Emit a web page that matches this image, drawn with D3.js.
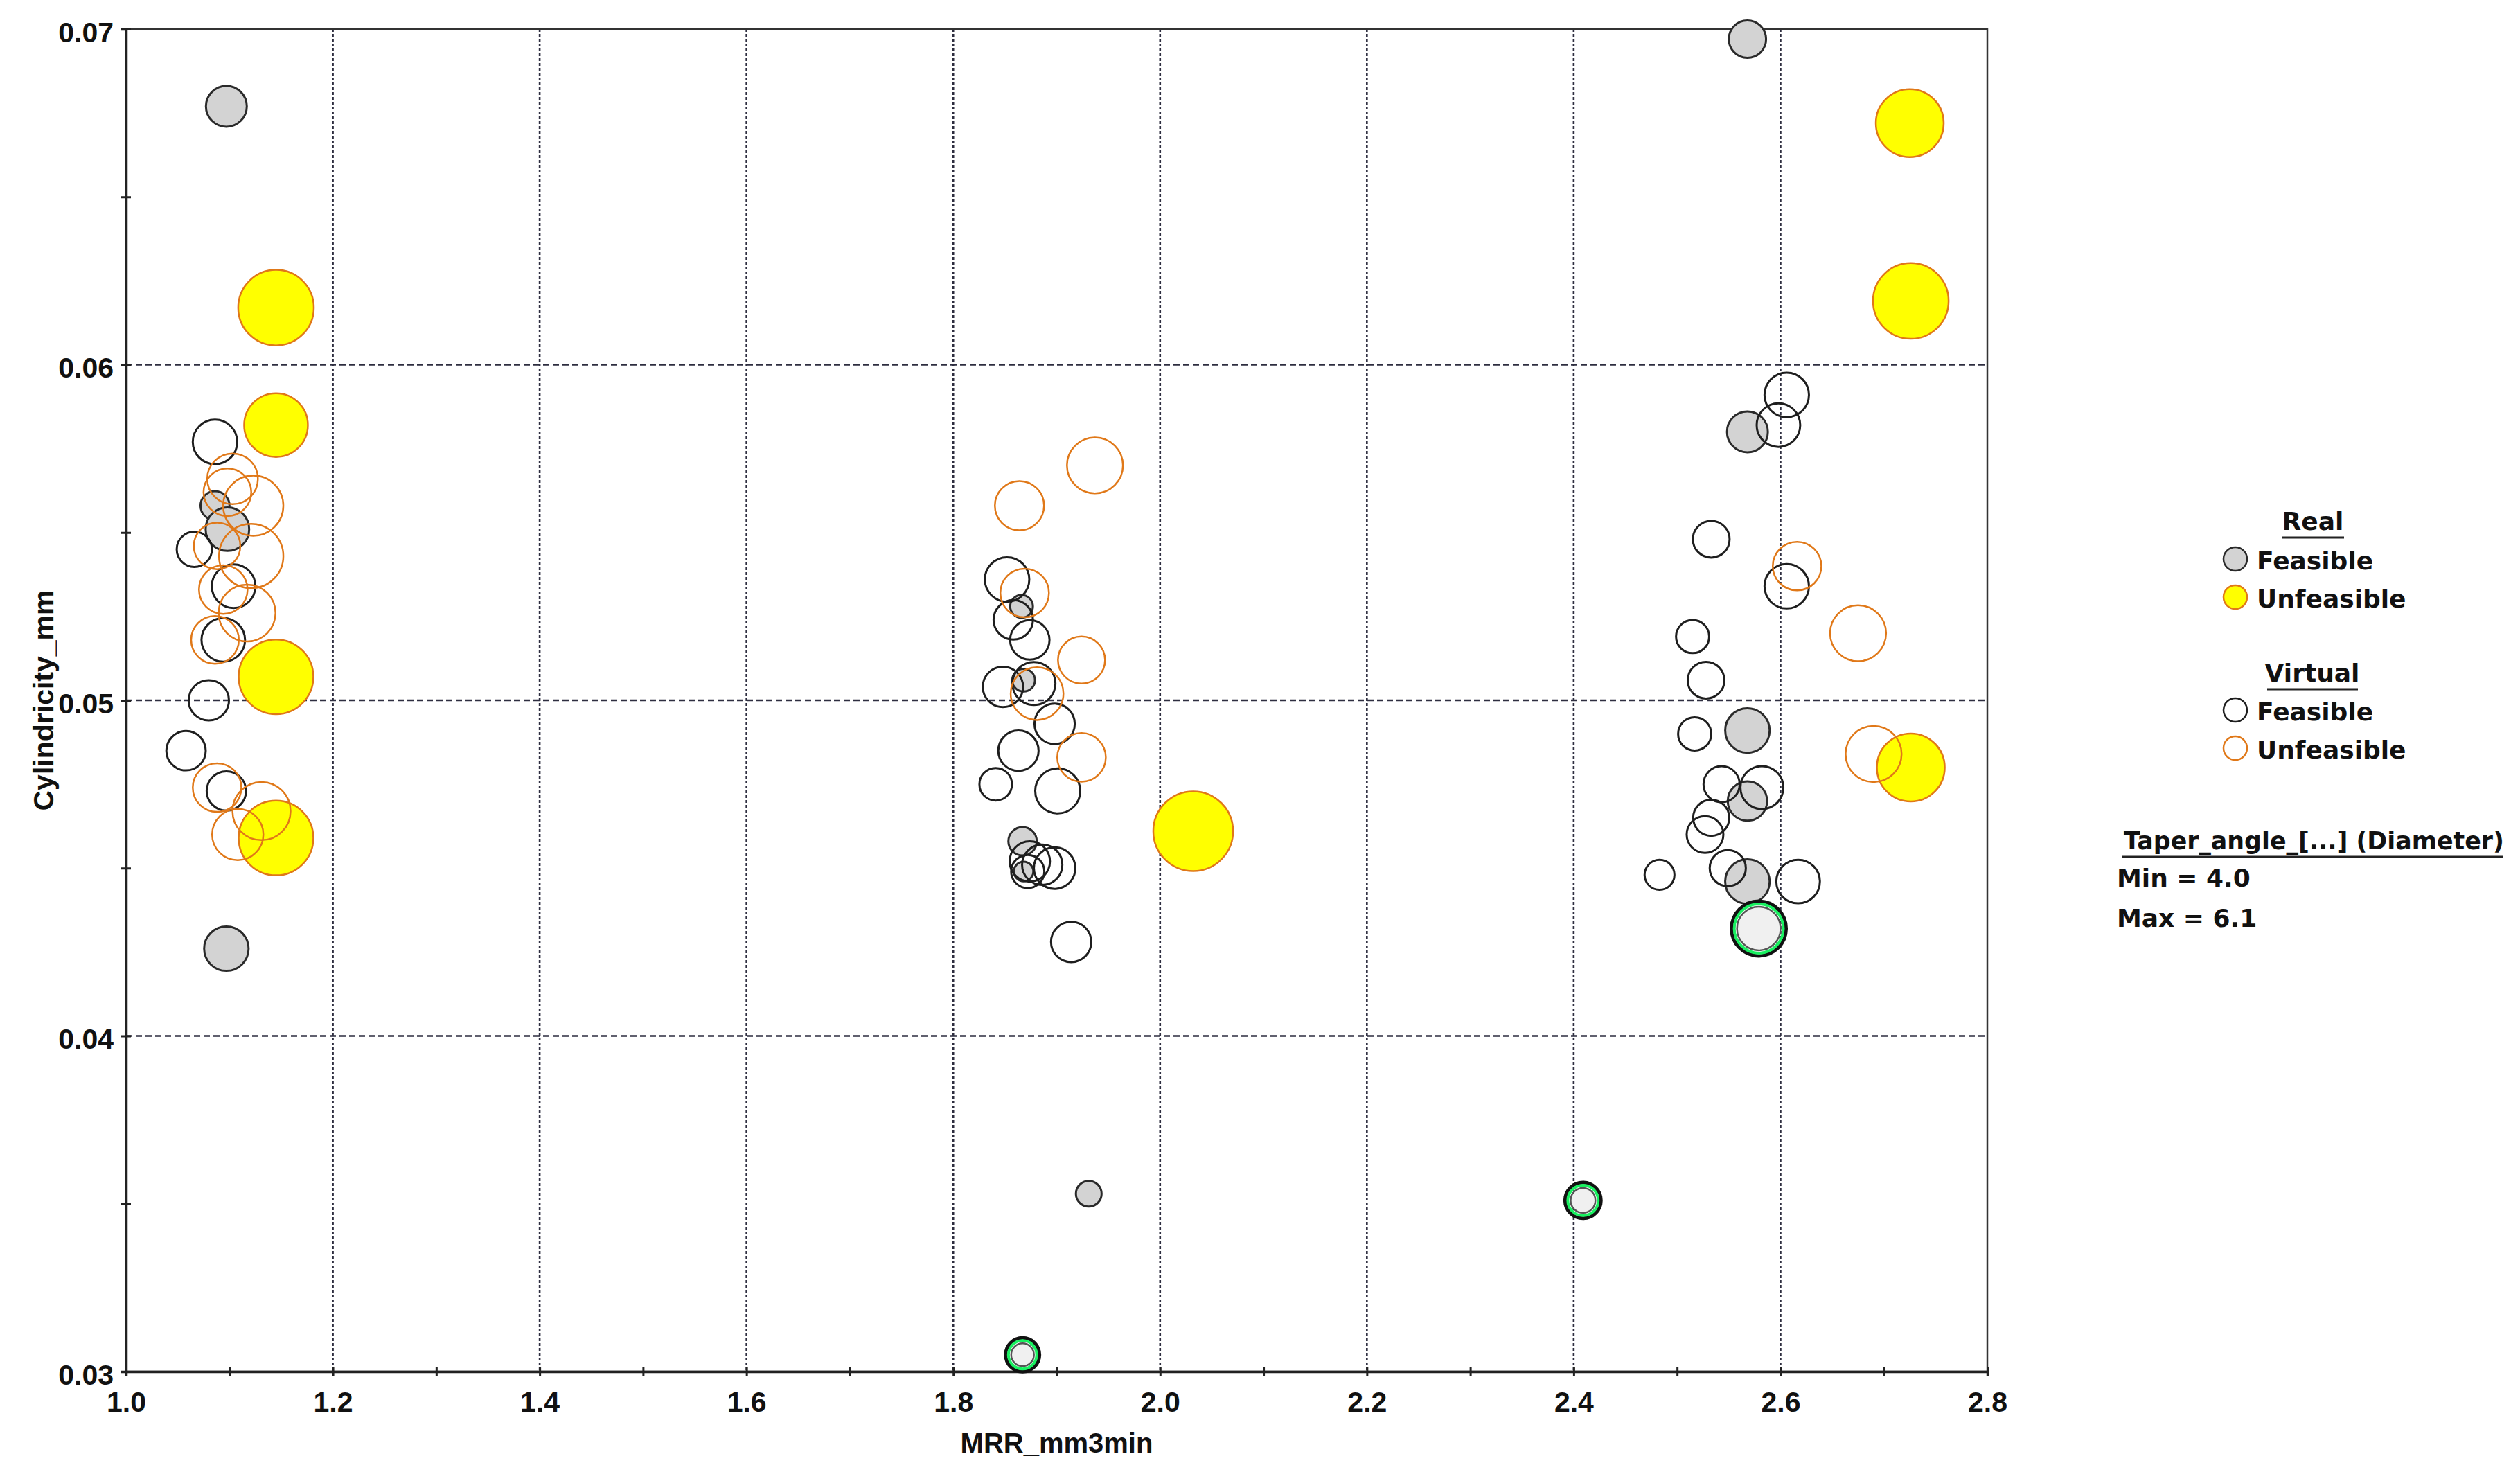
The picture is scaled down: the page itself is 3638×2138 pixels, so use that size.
<!DOCTYPE html>
<html>
<head>
<meta charset="utf-8">
<script src="https://cdn.jsdelivr.net/npm/d3@7"></script>
<style>
  body { margin: 0; background: #fff; }
  text { font-family: "Liberation Sans", Arial, sans-serif; font-weight: bold; fill: #111; }
  .leg text { font-family: "DejaVu Sans", Verdana, sans-serif; font-size: 36px; }
</style>
</head>
<body>
<svg id="chart" width="3638" height="2138"></svg>
<script>
// data: [MRR_mm3min, Cylindricity_mm, Taper_angle]
var realFeasible = [
  [1.097, 0.0677, 4.77], [1.086, 0.0558, 4.37], [1.098, 0.0551, 4.86], [1.097, 0.0426, 4.89],
  [1.866, 0.0528, 4.16], [1.868, 0.0506, 4.16], [1.867, 0.0458, 4.35], [1.868, 0.0449, 4.05],
  [1.931, 0.0353, 4.26],
  [2.568, 0.0697, 4.65], [2.568, 0.0580, 4.77], [2.568, 0.0491, 4.89], [2.568, 0.0470, 4.72],
  [2.568, 0.0446, 4.89]
];
// real feasible points that are highlighted (green ring)
var selected = [
  [1.867, 0.0305, 4.16], [2.409, 0.0351, 4.23], [2.579, 0.0432, 4.86]
];
var realUnfeasible = [
  [1.145, 0.0617, 5.94], [1.145, 0.0582, 5.54], [1.145, 0.0507, 5.91], [1.145, 0.0459, 5.91],
  [2.032, 0.0461, 6.08],
  [2.725, 0.0672, 5.68], [2.726, 0.0619, 5.94], [2.726, 0.0480, 5.68]
];
var virtualFeasible = [
  [1.086, 0.0577, 4.89], [1.066, 0.0545, 4.58], [1.104, 0.0534, 4.86], [1.094, 0.0518, 4.86],
  [1.080, 0.0500, 4.75], [1.058, 0.0485, 4.72], [1.097, 0.0473, 4.72],
  [1.852, 0.0536, 4.89], [1.858, 0.0524, 4.72], [1.874, 0.0518, 4.72], [1.848, 0.0504, 4.75],
  [1.878, 0.0505, 4.84], [1.898, 0.0493, 4.75], [1.863, 0.0485, 4.75], [1.841, 0.0475, 4.49],
  [1.901, 0.0473, 4.91], [1.874, 0.0452, 4.75], [1.886, 0.0451, 4.75], [1.898, 0.0450, 4.79],
  [1.872, 0.0449, 4.51], [1.914, 0.0428, 4.75],
  [2.606, 0.0591, 4.89], [2.598, 0.0582, 4.86], [2.533, 0.0548, 4.63], [2.606, 0.0534, 4.89],
  [2.515, 0.0519, 4.51], [2.528, 0.0506, 4.63], [2.517, 0.0490, 4.51], [2.543, 0.0475, 4.61],
  [2.582, 0.0474, 4.84], [2.533, 0.0465, 4.61], [2.527, 0.0460, 4.63], [2.483, 0.0448, 4.40],
  [2.549, 0.0450, 4.61], [2.617, 0.0446, 4.86]
];
var virtualUnfeasible = [
  [1.103, 0.0566, 5.10], [1.098, 0.0562, 5.00], [1.123, 0.0558, 5.42], [1.088, 0.0546, 4.96],
  [1.121, 0.0543, 5.56], [1.094, 0.0533, 5.03], [1.117, 0.0526, 5.31], [1.086, 0.0518, 5.00],
  [1.088, 0.0474, 5.03], [1.131, 0.0467, 5.35], [1.108, 0.0460, 5.12],
  [1.937, 0.0570, 5.28], [1.864, 0.0558, 5.05], [1.869, 0.0532, 5.03], [1.924, 0.0512, 4.98],
  [1.881, 0.0502, 5.17], [1.924, 0.0483, 5.03],
  [2.616, 0.0540, 5.03], [2.675, 0.0520, 5.28], [2.690, 0.0484, 5.28]
];
var xTicks = [1.0, 1.1, 1.2, 1.3, 1.4, 1.5, 1.6, 1.7, 1.8, 1.9, 2.0, 2.1, 2.2, 2.3, 2.4, 2.5, 2.6, 2.7, 2.8];
var yTicks = [0.03, 0.035, 0.04, 0.045, 0.05, 0.055, 0.06, 0.065, 0.07];
var xGrid = [1.2, 1.4, 1.6, 1.8, 2.0, 2.2, 2.4, 2.6];
var yGrid = [0.04, 0.05, 0.06];

//plot area edges
var pLeft = 182, pRight = 2869, pTop = 42, pBottom = 1980;

var svg = d3.select("#chart");

var x = d3.scaleLinear().domain([1.0, 2.8]).range([pLeft, pRight]);
var y = d3.scaleLinear().domain([0.03, 0.07]).range([pBottom, pTop]);
var r = d3.scaleLinear().domain([4.0, 6.1]).range([13, 58]);

//grid lines
svg.append("g").selectAll("line").data(xGrid).enter().append("line")
   .attr("x1", d => x(d)).attr("x2", d => x(d))
   .attr("y1", pTop).attr("y2", pBottom)
   .style("stroke", "#2e2e40").style("stroke-width", 2.6)
   .style("stroke-dasharray", "4,3");
svg.append("g").selectAll("line").data(yGrid).enter().append("line")
   .attr("x1", pLeft).attr("x2", pRight)
   .attr("y1", d => y(d)).attr("y2", d => y(d))
   .style("stroke", "#2e2e40").style("stroke-width", 2.4)
   .style("stroke-dasharray", "9,5");

//frame
svg.append("rect")
   .attr("x", pLeft).attr("y", pTop)
   .attr("width", pRight - pLeft).attr("height", pBottom - pTop)
   .style("fill", "none").style("stroke", "#333").style("stroke-width", 2.5);

//x axis
var xAxis = d3.axisBottom(x).tickValues(xTicks).tickSize(7)
   .tickFormat(d => Math.round(d * 10) % 2 === 0 ? d3.format(".1f")(d) : "");
var gx = svg.append("g").attr("transform", "translate(0," + pBottom + ")").call(xAxis);
gx.select(".domain").style("stroke", "#222").style("stroke-width", 3.5);
gx.selectAll(".tick line").attr("y1", -7).attr("y2", 7).style("stroke", "#222").style("stroke-width", 3);
gx.selectAll(".tick text").attr("y", 58).attr("dy", null)
  .style("font-size", "41px").style("font-family", "'Liberation Sans', Arial").style("font-weight", "bold").style("fill", "#111");

//y axis
var yAxis = d3.axisLeft(y).tickValues(yTicks).tickSize(7)
   .tickFormat(d => Math.round(d * 1000) % 10 === 0 ? d3.format(".2f")(d) : "");
var gy = svg.append("g").attr("transform", "translate(" + pLeft + ",0)").call(yAxis);
gy.select(".domain").style("stroke", "#222").style("stroke-width", 3.5);
gy.selectAll(".tick line").attr("x1", -7).attr("x2", 7).style("stroke", "#222").style("stroke-width", 3);
gy.selectAll(".tick text").attr("x", -18).attr("dy", "0.45em")
  .style("font-size", "41px").style("font-family", "'Liberation Sans', Arial").style("font-weight", "bold").style("fill", "#111");

//axis titles
svg.append("text")
   .attr("x", (pLeft + pRight) / 2).attr("y", 2097)
   .attr("text-anchor", "middle").style("font-size", "40px")
   .text("MRR_mm3min");
svg.append("text")
   .attr("transform", "translate(77," + (pTop + pBottom) / 2 + ") rotate(-90)")
   .attr("text-anchor", "middle").style("font-size", "41px")
   .text("Cylindricity_mm");

//bubbles
function bubbles(data, fill, stroke, sw) {
  svg.append("g").selectAll("circle").data(data).enter().append("circle")
     .attr("cx", d => x(d[0])).attr("cy", d => y(d[1])).attr("r", d => r(d[2]))
     .style("fill", fill).style("stroke", stroke).style("stroke-width", sw);
}
bubbles(realFeasible, "#d3d3d3", "#2a2a2a", 3);
bubbles(realUnfeasible, "#ffff00", "#e07818", 2.5);

//highlighted points
var sel = svg.append("g").selectAll("g").data(selected).enter().append("g")
   .attr("transform", d => "translate(" + x(d[0]) + "," + y(d[1]) + ")");
sel.append("circle").attr("r", d => r(d[2]) + 8)
   .style("fill", "none").style("stroke", "#111").style("stroke-width", 5);
sel.append("circle").attr("r", d => r(d[2]) + 4)
   .style("fill", "none").style("stroke", "#19f060").style("stroke-width", 4);
sel.append("circle").attr("r", d => r(d[2]))
   .style("fill", "#f0f0f0").style("stroke", "#555").style("stroke-width", 2.5);

bubbles(virtualFeasible, "none", "#1e1e1e", 3);
bubbles(virtualUnfeasible, "none", "#e07818", 2.5);

//legend
var leg = svg.append("g").attr("class", "leg");
function legTitle(label, cx, by, x1, x2) {
  leg.append("text").attr("x", cx).attr("y", by).attr("text-anchor", "middle").text(label);
  leg.append("line").attr("x1", x1).attr("x2", x2).attr("y1", by + 11).attr("y2", by + 11)
     .style("stroke", "#222").style("stroke-width", 3);
}
function legItem(label, by, fill, stroke) {
  leg.append("circle").attr("cx", 3227).attr("cy", by - 15).attr("r", 17)
     .style("fill", fill).style("stroke", stroke).style("stroke-width", 2.5);
  leg.append("text").attr("x", 3258).attr("y", by).text(label);
}
legTitle("Real", 3339, 765, 3294, 3384);
legItem("Feasible", 822, "#d3d3d3", "#2a2a2a");
legItem("Unfeasible", 877, "#ffff00", "#e07818");
legTitle("Virtual", 3338, 984, 3273, 3404);
legItem("Feasible", 1040, "none", "#1e1e1e");
legItem("Unfeasible", 1095, "none", "#e07818");

leg.append("text").attr("x", 3066).attr("y", 1226).style("font-size", "34.8px")
   .text("Taper_angle_[...] (Diameter)");
leg.append("line").attr("x1", 3064).attr("x2", 3614).attr("y1", 1237).attr("y2", 1237)
   .style("stroke", "#222").style("stroke-width", 3);
leg.append("text").attr("x", 3056).attr("y", 1280).text("Min = 4.0");
leg.append("text").attr("x", 3056).attr("y", 1338).text("Max = 6.1");
</script>
</body>
</html>
